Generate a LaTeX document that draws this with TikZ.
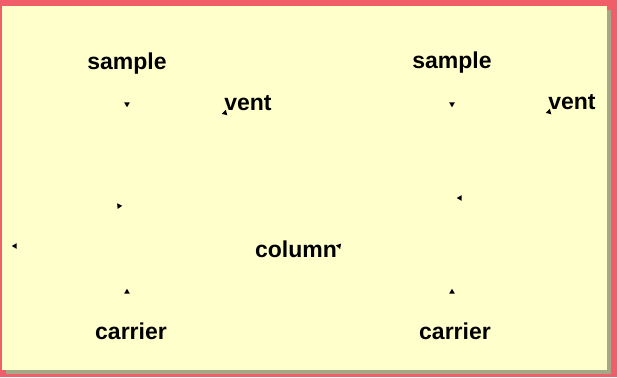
\documentclass[tikz,border=0pt]{standalone}
\usepackage{fontspec}
\setmainfont{Liberation Sans}
\usetikzlibrary{shapes.geometric}
\definecolor{bgred}{RGB}{240,95,105}
\definecolor{panel}{RGB}{255,255,204}
\definecolor{shadowc}{RGB}{165,168,135}
\tikzset{
  lbl/.style={font=\fontsize{23}{26}\selectfont\bfseries, text=black, inner sep=0pt},
  tipmark/.style={regular polygon, regular polygon sides=3, fill=black, draw=none,
    inner sep=0pt, minimum size=6.5pt, rotate=#1},
}
\begin{document}
\begin{tikzpicture}[x=1pt,y=-1pt]
\useasboundingbox (0,0) rectangle (617,377);
\fill[bgred] (0,0) rectangle (617,377);
\fill[shadowc] (6,10) rectangle (611,374);
\fill[panel] (2,6) rectangle (607,370);
% labels
\node[lbl] (sampleL) at (127,64) {sample};
\node[lbl] (sampleR) at (452,63) {sample};
\node[lbl] (ventL) at (248,103) {vent};
\node[lbl] (ventR) at (572,102) {vent};
\node[lbl] (column) at (296,249) {column};
\node[lbl] (carrierL) at (131,331) {carrier};
\node[lbl] (carrierR) at (455,331) {carrier};
% arrow tips
\node[tipmark=180] (t1) at (127,104) {};
\node[tipmark=105] (t2) at (225,113) {};
\node[tipmark=-85] (t3) at (119,206) {};
\node[tipmark=90] (t4) at (15,246) {};
\node[tipmark=80] (t5) at (339,246) {};
\node[tipmark=0] (t6) at (127,292) {};
\node[tipmark=180] (t7) at (452,104) {};
\node[tipmark=105] (t8) at (549,112) {};
\node[tipmark=90] (t9) at (460,198) {};
\node[tipmark=0] (t10) at (452,292) {};
\end{tikzpicture}
\end{document}
